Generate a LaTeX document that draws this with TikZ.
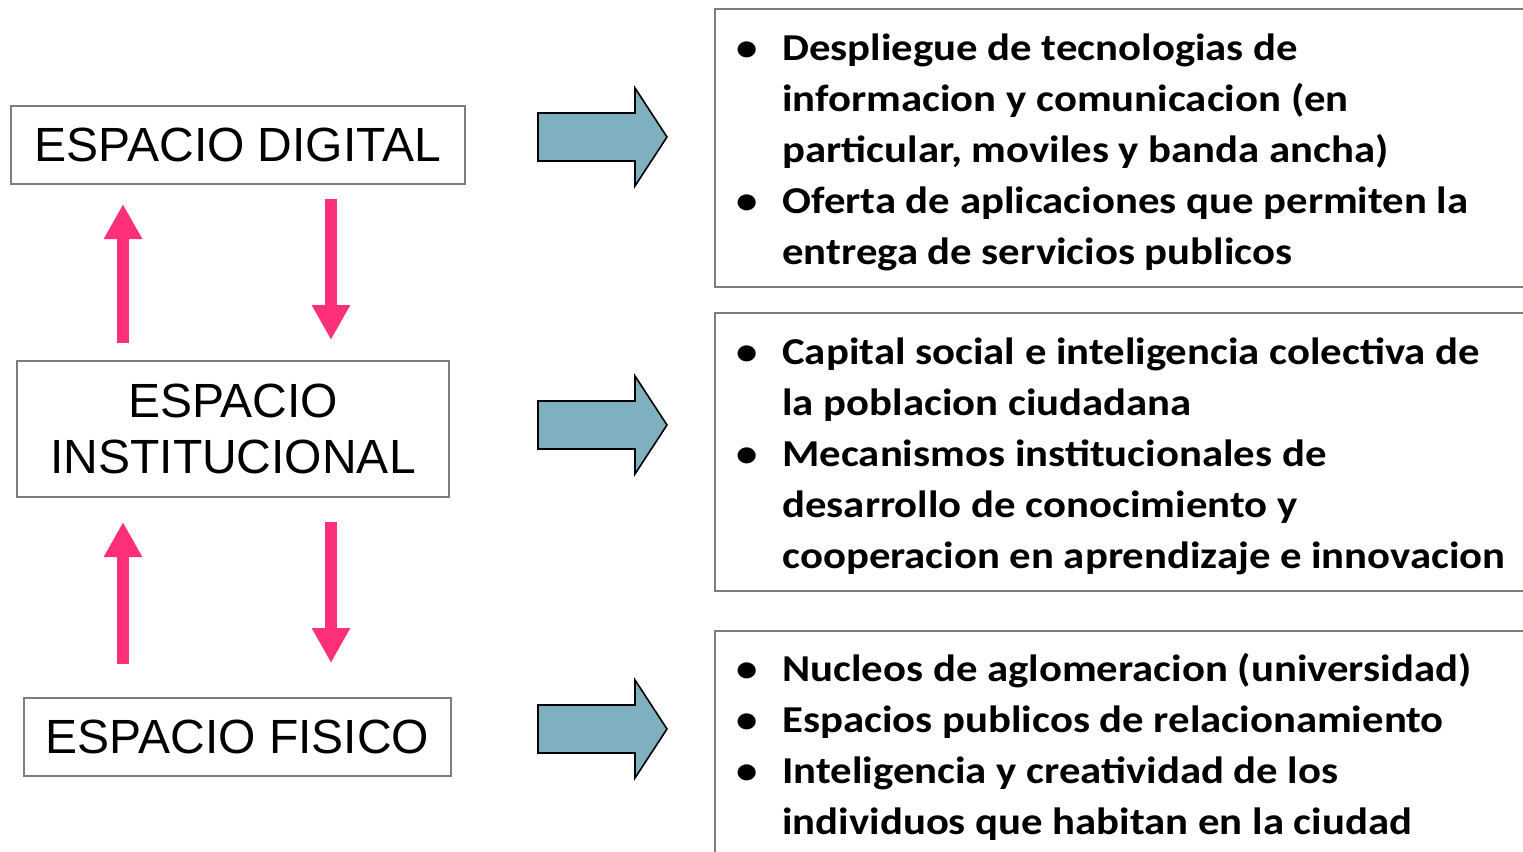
\documentclass[tikz,border=0pt]{standalone}
\usepackage{fontspec}
\setmainfont{Carlito}
\newfontfamily\calibrifont{Carlito}[FakeStretch=1.125]
\newfontfamily\arialfont{Liberation Sans}
\usetikzlibrary{arrows.meta}
\definecolor{pinkred}{RGB}{255,48,121}
\definecolor{tealfill}{RGB}{127,176,191}
\definecolor{boxgray}{RGB}{128,124,120}
\tikzset{
	spacebox/.style={draw=boxgray, line width=1pt, fill=white, inner sep=0pt, align=center, font=\arialfont\fontsize{24pt}{28pt}\selectfont},
	infobox/.style={draw=boxgray, line width=1pt},
	infotext/.style={anchor=base west, inner sep=0pt, font=\calibrifont\bfseries\fontsize{19pt}{25.6pt}\selectfont},
	pinkarrow/.style={draw=pinkred, line width=6pt, -{Triangle[width=18pt,length=17.5pt]}},
	blockarrow/.style={draw=black, line width=0.8pt, fill=tealfill, line join=miter}
}
\begin{document}
\begin{tikzpicture}[x=0.5pt, y=-0.5pt]
	\useasboundingbox (0,0) rectangle (1523,852);
	\node[spacebox, minimum width=227pt, minimum height=39pt] (digital) at (238,145) {ESPACIO DIGITAL};
	\node[spacebox, minimum width=216pt, minimum height=68pt] (institucional) at (233,429) {ESPACIO\\INSTITUCIONAL};
	\node[spacebox, minimum width=213.5pt, minimum height=39pt] (fisico) at (237.5,737) {ESPACIO FISICO};
	\coordinate (leftcol) at (123,0);
	\coordinate (rightcol) at (331,0);
	\draw[pinkarrow, shorten <=8.5pt, shorten >=9.5pt] (leftcol |- institucional.north) -- (leftcol |- digital.south);
	\draw[pinkarrow, shorten <=7pt, shorten >=10pt] (rightcol |- digital.south) -- (rightcol |- institucional.north);
	\draw[pinkarrow, shorten <=16.5pt, shorten >=12pt] (leftcol |- fisico.north) -- (leftcol |- institucional.south);
	\draw[pinkarrow, shorten <=12pt, shorten >=17pt] (rightcol |- institucional.south) -- (rightcol |- fisico.north);
	
	\foreach \y in {137,425,729}
		\draw[blockarrow] (538,\y-24) -- (635,\y-24) -- (635,\y-49) -- (667,\y) -- (635,\y+49) -- (635,\y+24) -- (538,\y+24) -- cycle;
	
	\draw[infobox] (715,9) rectangle (1540,287);
	\draw[infobox] (715,313) rectangle (1540,591);
	\draw[infobox] (715,631) rectangle (1540,870);
	\node[infotext] (digitaltext) at (736,60) {\begin{tabular}[t]{@{}p{23pt}@{}l@{}}
		\textbullet & Despliegue de tecnologias de\\
		 & informacion y comunicacion (en\\
		 & particular, moviles y banda ancha)\\
		\textbullet & Oferta de aplicaciones que permiten la\\
		 & entrega de servicios publicos
	\end{tabular}};
	\node[infotext] (instittext) at (736,364) {\begin{tabular}[t]{@{}p{23pt}@{}l@{}}
		\textbullet & Capital social e inteligencia colectiva de\\
		 & la poblacion ciudadana\\
		\textbullet & Mecanismos institucionales de\\
		 & desarrollo de conocimiento y\\
		 & cooperacion en aprendizaje e innovacion
	\end{tabular}};
	\node[infotext] (fisicotext) at (736,681) {\begin{tabular}[t]{@{}p{23pt}@{}l@{}}
		\textbullet & Nucleos de aglomeracion (universidad)\\
		\textbullet & Espacios publicos de relacionamiento\\
		\textbullet & Inteligencia y creatividad de los\\
		 & individuos que habitan en la ciudad
	\end{tabular}};
\end{tikzpicture}
\end{document}
